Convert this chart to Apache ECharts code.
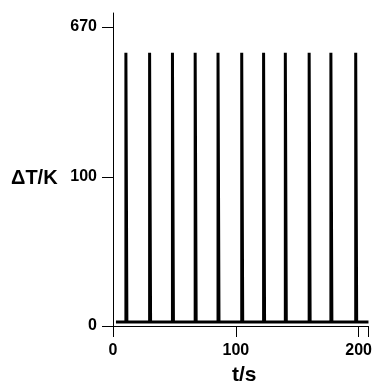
<!DOCTYPE html>
<html>
<head>
<meta charset="utf-8">
<style>
  html, body { margin: 0; padding: 0; background: #fff; }
  #chart { width: 375px; height: 384px; }
</style>
<script src="https://cdn.jsdelivr.net/npm/echarts@6/dist/echarts.min.js"></script>
</head>
<body>
<div id="chart"></div>
<script>
// Temperature pulses: time of each spike (s) and its peak rise (K)
const spikeTimes = [10.5, 29.8, 48.4, 66.9, 85.5, 104.8, 122.6, 140.3, 159.7, 177.4, 197.6];
const spikePeaks = [490, 490, 490, 490, 490, 490, 490, 490, 490, 490, 490];
const baselineDT = 1;          // resting level between pulses (K)
const traceStart = 2.4;        // s
const traceEnd = 208;          // s
const pulseWidth = 0.8;        // s
const yTicks = [0, 100, 670];  // labelled ΔT values (K)
const xTicks = [0, 100, 200];  // labelled t values (s)
const yTop = 790;              // ΔT at the top end of the axis

// Compressed ΔT scale: log10(ΔT + offset)
const OFFSET = 21.7;
const tr = v => Math.log10(v + OFFSET);

const trace = [[traceStart, tr(baselineDT)]];
spikeTimes.forEach((t, i) => {
  trace.push([t, tr(baselineDT)]);
  trace.push([t, tr(spikePeaks[i])]);
  trace.push([t + pulseWidth, tr(spikePeaks[i])]);
  trace.push([t + pulseWidth, tr(baselineDT)]);
});
trace.push([traceEnd, tr(baselineDT)]);

const FONT = '"Liberation Sans", Arial, sans-serif';
const chart = echarts.init(document.getElementById('chart'), null, { renderer: 'canvas' });
chart.setOption({
  animation: false,
  backgroundColor: '#fff',
  grid: { left: 113, right: 2, top: 13, bottom: 58, containLabel: false },
  xAxis: {
    type: 'value',
    min: 0,
    max: traceEnd,
    interval: 100,
    splitLine: { show: false },
    axisLine: { onZero: false, lineStyle: { color: '#000', width: 1 } },
    axisTick: { length: 11, lineStyle: { color: '#000', width: 1 } },
    axisLabel: {
      margin: 17,
      color: '#000',
      fontFamily: FONT,
      fontWeight: 'bold',
      fontSize: 16,
      formatter: v => (xTicks.includes(v) ? String(v) : '')
    }
  },
  yAxis: {
    type: 'value',
    min: tr(0),
    max: tr(yTop),
    splitLine: { show: false },
    axisLine: { show: true, lineStyle: { color: '#000', width: 1 } },
    axisTick: {
      show: true,
      length: 11,
      customValues: yTicks.map(tr),
      lineStyle: { color: '#000', width: 1 }
    },
    axisLabel: {
      show: true,
      margin: 16,
      customValues: yTicks.map(tr),
      color: '#000',
      fontFamily: FONT,
      fontWeight: 'bold',
      fontSize: 16,
      formatter: v => String(Math.round(Math.pow(10, v) - OFFSET))
    }
  },
  graphic: [
    {
      type: 'text', left: 11, top: 168,
      style: { text: 'ΔT/K', fill: '#000', font: 'bold 20px ' + FONT }
    },
    {
      type: 'text', left: 232, top: 365,
      style: { text: 't/s', fill: '#000', font: 'bold 21px ' + FONT }
    }
  ],
  series: [{
    type: 'line',
    data: trace,
    showSymbol: false,
    clip: true,
    lineStyle: { color: '#000', width: 3, join: 'miter' }
  }]
});
</script>
</body>
</html>
